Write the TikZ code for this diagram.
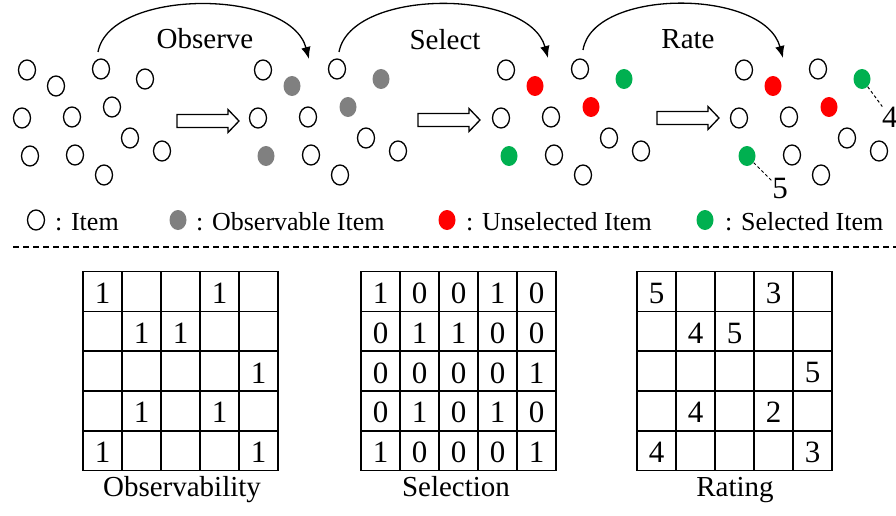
\documentclass[tikz,border=0pt]{standalone}
\usepackage{fontspec}
\setmainfont{Liberation Serif}
\usetikzlibrary{shapes.geometric,arrows.meta}
\definecolor{obsgray}{RGB}{128,128,128}
\definecolor{unselred}{RGB}{255,0,0}
\definecolor{selgreen}{RGB}{0,176,80}
\newcommand\labfont{\fontsize{29}{34}\selectfont}
\newcommand\numfont{\fontsize{31}{36}\selectfont}
\newcommand\legfont{\fontsize{26}{31}\selectfont}
\begin{document}
\begin{tikzpicture}[x=1pt,y=-1pt,
  item/.style={ellipse,draw,line width=1.3pt,minimum width=17pt,minimum height=20pt,inner sep=0pt},
  dotitem/.style={ellipse,fill=#1,minimum width=17pt,minimum height=20pt,inner sep=0pt},
  g1n/.style=item, g1a/.style=item, g1b/.style=item,
  g2n/.style=item, g2a/.style={dotitem=obsgray}, g2b/.style={dotitem=obsgray},
  g3n/.style=item, g3a/.style={dotitem=unselred}, g3b/.style={dotitem=selgreen},
  g4n/.style=item, g4a/.style={dotitem=unselred}, g4b/.style={dotitem=selgreen},
  lab/.style={font=\labfont, inner sep=0pt},
  leg/.style={font=\legfont, inner sep=0pt, anchor=base west},
  flow/.style={line width=1.3pt, -{Latex[length=12pt,width=9.5pt]}},
  hollow/.style={draw, line width=1.3pt, fill=white, line join=miter},
  lead/.style={line width=1pt, dash pattern=on 3pt off 2.5pt},
  sep/.style={line width=1.3pt, dash pattern=on 6pt off 4pt},
  gridline/.style={line width=1.6pt, line cap=rect},
  cellnum/.style={font=\numfont, inner sep=0pt}
]
\useasboundingbox (0,0) rectangle (896,516);

% four snapshots of the item pool
\foreach \g/\dx in {1/0,2/236,3/479,4/717}{
  \foreach \i/\x/\y/\k in {1/27/70/n, 2/56/86/a, 3/101/69/n, 4/145/79/b,
                           5/22/118/n, 6/72/117/n, 7/112/107/a, 8/30/156/b,
                           9/75/155/n, 10/130/138/n, 11/162/151/n, 12/104/175/n}
    \node[g\g\k] (g\g i\i) at (\x+\dx,\y) {};
}

% process arcs
\coordinate (obsS) at (98,52);  \coordinate (obsE) at (309,59);
\coordinate (selS) at (339,52); \coordinate (selE) at (548,58);
\coordinate (ratS) at (583,50); \coordinate (ratE) at (783,58);
\draw[flow] (obsS) .. controls +(12,-64) and +(-19,-71) .. (obsE);
\draw[flow] (selS) .. controls +(12,-64) and +(-19,-70) .. (selE);
\draw[flow] (ratS) .. controls +(10,-62) and +(-19,-70) .. (ratE);
\node[lab, anchor=base] (obsL) at (205,49) {Observe};
\node[lab, anchor=base] (selL) at (445,50) {Select};
\node[lab, anchor=base] (ratL) at (688,49) {Rate};

% hollow block arrows
\foreach \n/\x/\y in {1/177/121, 2/418/120, 3/657/118}{
  \coordinate (ba\n) at (\x,\y);
  \draw[hollow] (ba\n) ++(0,-6.5) -- ++(51,0) -- ++(0,-5) -- ++(11,11.5)
        -- ++(-11,11.5) -- ++(0,-5) -- ++(-51,0) -- cycle;
}

% ratings attached to selected items
\node[cellnum, anchor=west] (r4) at (882,117) {4};
\node[cellnum] (r5) at (780,189) {5};
\draw[lead] (g4i4) -- (r4);
\draw[lead] (g4i8) -- (r5);

% legend
\node[item] (k1) at (36,220) {};
\node[leg] (k1t) at (55,230) {: Item};
\node[dotitem=obsgray] (k2) at (178,220) {};
\node[leg] (k2t) at (196,230) {: Observable Item};
\node[dotitem=unselred] (k3) at (447,220) {};
\node[leg] (k3t) at (466,230) {: Unselected Item};
\node[dotitem=selgreen] (k4) at (705,220) {};
\node[leg] (k4t) at (725,230) {: Selected Item};

% separator
\coordinate (sepL) at (13,247); \coordinate (sepR) at (896,247);
\draw[sep] (sepL) -- (sepR);

% matrices
\foreach \gx in {83,361,637}{
  \foreach \i in {0,...,5}{
    \draw[gridline] (\gx+\i*39,271.5) -- (\gx+\i*39,470.5);
    \draw[gridline] (\gx,271.5+\i*39.8) -- (\gx+195,271.5+\i*39.8);
  }
}
\foreach \r/\c/\v in {1/1/1,1/4/1,2/2/1,2/3/1,3/5/1,4/2/1,4/4/1,5/1/1,5/5/1}
  \node[cellnum] (obs-\r-\c) at (83+\c*39-19.5, 271.5+\r*39.8-18) {\v};
\foreach \row [count=\r] in {{1,0,0,1,0},{0,1,1,0,0},{0,0,0,0,1},{0,1,0,1,0},{1,0,0,0,1}}
  \foreach \v [count=\c] in \row
    \node[cellnum] (sel-\r-\c) at (361+\c*39-19.5, 271.5+\r*39.8-18) {\v};
\foreach \r/\c/\v in {1/1/5,1/4/3,2/2/4,2/3/5,3/5/5,4/2/4,4/4/2,5/1/4,5/5/3}
  \node[cellnum] (rat-\r-\c) at (637+\c*39-19.5, 271.5+\r*39.8-18) {\v};

\node[lab, anchor=base] (capO) at (182,496) {Observability};
\node[lab, anchor=base] (capS) at (456,496) {Selection};
\node[lab, anchor=base] (capR) at (735,496) {Rating};
\end{tikzpicture}
\end{document}
